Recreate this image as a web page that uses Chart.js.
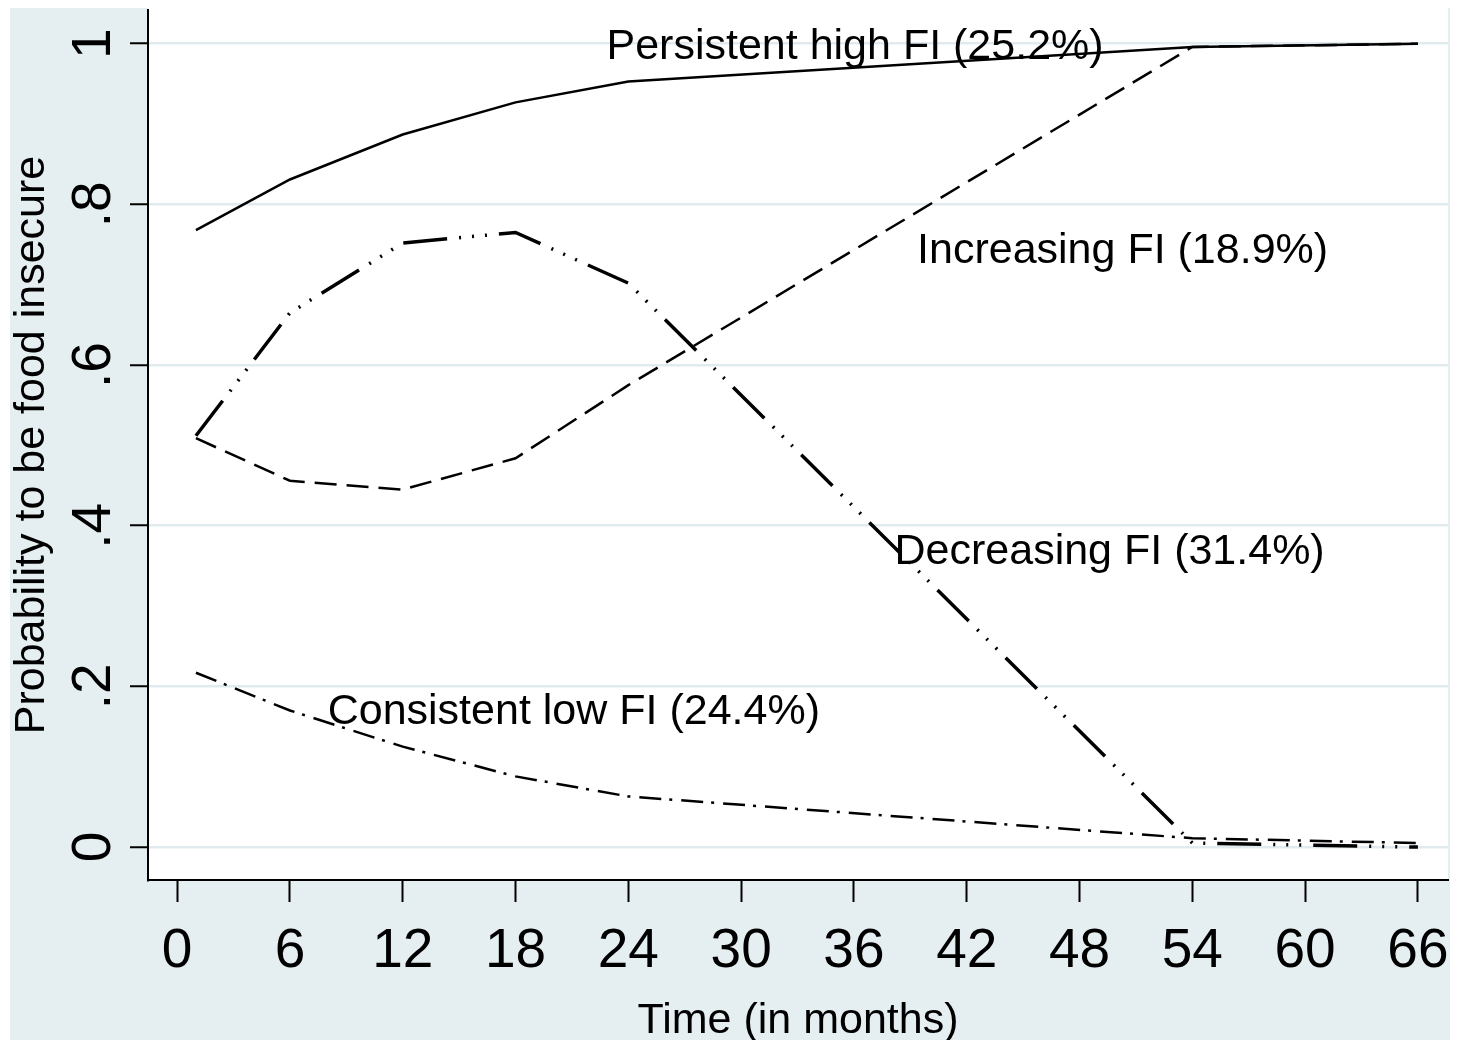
<!DOCTYPE html>
<html>
<head>
<meta charset="utf-8">
<script src="https://cdn.jsdelivr.net/npm/chart.js@4.4.1/dist/chart.umd.min.js"></script>
<style>
  html, body { margin: 0; padding: 0; background: #ffffff; }
  #wrap { width: 1464px; height: 1040px; }
</style>
</head>
<body>
<div id="wrap"><canvas id="c" width="1464" height="1040"></canvas></div>
<script>
// ---- data ----
const months = [1, 6, 12, 18, 24, 54, 66];
const persistentHigh = [0.768, 0.831, 0.887, 0.927, 0.953, 0.996, 1.000];
const increasing     = [0.509, 0.456, 0.445, 0.484, 0.575, 0.996, 1.000];
const decreasing     = [0.512, 0.665, 0.752, 0.765, 0.702, 0.005, 0.000];
const consistentLow  = [0.217, 0.170, 0.125, 0.088, 0.063, 0.011, 0.005];

const xTickValues = [0, 6, 12, 18, 24, 30, 36, 42, 48, 54, 60, 66];
const yTickValues = [0, 0.2, 0.4, 0.6, 0.8, 1];
const yTickLabels = ['0', '.2', '.4', '.6', '.8', '1'];

const labelTexts = ['Persistent high FI (25.2%)', 'Increasing FI (18.9%)', 'Decreasing FI (31.4%)', 'Consistent low FI (24.4%)'];
const labelX = [36.06, 50.29, 49.6, 21.1];
const labelY = [1.0, 0.746, 0.372, 0.173];

const xTitle = 'Time (in months)';
const yTitle = 'Probability to be food insecure';

// ---- styling ----
const FONT = '"Liberation Sans", Arial, Helvetica, sans-serif';
const OUTER_BG = '#e5eef0';
const GRID = '#e1ebef';

function pts(vals) { return months.map((m, i) => ({ x: m, y: vals[i] })); }

const textPlugin = {
  id: 'stataText',
  beforeDraw(chart) {
    const ctx = chart.ctx;
    const a = chart.chartArea;
    ctx.save();
    ctx.fillStyle = '#ffffff';
    ctx.fillRect(0, 0, chart.width, chart.height);
    ctx.fillStyle = OUTER_BG;
    ctx.fillRect(10, 8, 1440, 1032);
    ctx.fillStyle = '#ffffff';
    ctx.fillRect(a.left, 8, a.right - a.left, a.bottom - 8);
    ctx.restore();
  },
  afterDraw(chart) {
    const ctx = chart.ctx;
    const xs = chart.scales.x, ys = chart.scales.y;
    const a = chart.chartArea;
    ctx.save();
    ctx.fillStyle = '#000000';
    // x tick labels
    ctx.font = '55px ' + FONT;
    ctx.textAlign = 'center';
    ctx.textBaseline = 'alphabetic';
    xTickValues.forEach(v => {
      ctx.fillText(String(v), xs.getPixelForValue(v), 967);
    });
    // y tick labels (rotated)
    yTickValues.forEach((v, i) => {
      ctx.save();
      ctx.translate(110, ys.getPixelForValue(v));
      ctx.rotate(-Math.PI / 2);
      ctx.textAlign = 'center';
      ctx.textBaseline = 'alphabetic';
      ctx.fillText(yTickLabels[i], 0, 0);
      ctx.restore();
    });
    // axis titles
    ctx.font = '43px ' + FONT;
    ctx.textAlign = 'center';
    ctx.fillText(xTitle, (a.left + a.right) / 2, 1033);
    ctx.save();
    ctx.translate(44, (a.top + a.bottom) / 2);
    ctx.rotate(-Math.PI / 2);
    ctx.fillText(yTitle, 0, 0);
    ctx.restore();
    // curve labels
    ctx.font = '43px ' + FONT;
    labelTexts.forEach((t, i) => {
      ctx.fillText(t, xs.getPixelForValue(labelX[i]), ys.getPixelForValue(labelY[i]) + 15.5);
    });
    ctx.restore();
  }
};

new Chart(document.getElementById('c'), {
  type: 'line',
  data: {
    datasets: [
      { label: 'Persistent high FI', data: pts(persistentHigh), borderColor: '#000', borderWidth: 2.5, borderDash: [] },
      { label: 'Increasing FI', data: pts(increasing), borderColor: '#000', borderWidth: 2.5, borderDash: [22, 10] },
      { label: 'Decreasing FI', data: pts(decreasing), borderColor: '#000', borderWidth: 3.5, borderDash: [44, 12, 2, 11, 2, 11, 2, 12] },
      { label: 'Consistent low FI', data: pts(consistentLow), borderColor: '#000', borderWidth: 2.5, borderDash: [22, 8, 3, 9] }
    ]
  },
  options: {
    responsive: false,
    animation: false,
    devicePixelRatio: 1,
    layout: { padding: { left: 130, top: 10, right: 16, bottom: 0 } },
    elements: {
      point: { radius: 0, hoverRadius: 0 },
      line: { tension: 0, fill: false, borderCapStyle: 'butt', borderJoinStyle: 'miter' }
    },
    plugins: {
      legend: { display: false },
      tooltip: { enabled: false }
    },
    scales: {
      x: {
        type: 'linear',
        min: -1.55,
        max: 67.6,
        afterBuildTicks: s => { s.ticks = xTickValues.map(v => ({ value: v })); },
        afterFit: s => { s.height = 160; },
        ticks: { display: false },
        grid: { drawOnChartArea: false, drawTicks: true, tickLength: 22, tickColor: '#000', tickWidth: 2 },
        border: { display: true, color: '#000', width: 2 },
        title: { display: false }
      },
      y: {
        type: 'linear',
        min: -0.041,
        max: 1.042,
        afterBuildTicks: s => { s.ticks = yTickValues.map(v => ({ value: v })); },
        afterFit: s => { s.width = 18; },
        ticks: { display: false },
        grid: { drawOnChartArea: true, color: GRID, lineWidth: 2.5, drawTicks: true, tickLength: 18, tickColor: '#000', tickWidth: 2 },
        border: { display: true, color: '#000', width: 2 },
        title: { display: false }
      }
    }
  },
  plugins: [textPlugin]
});
</script>
</body>
</html>
